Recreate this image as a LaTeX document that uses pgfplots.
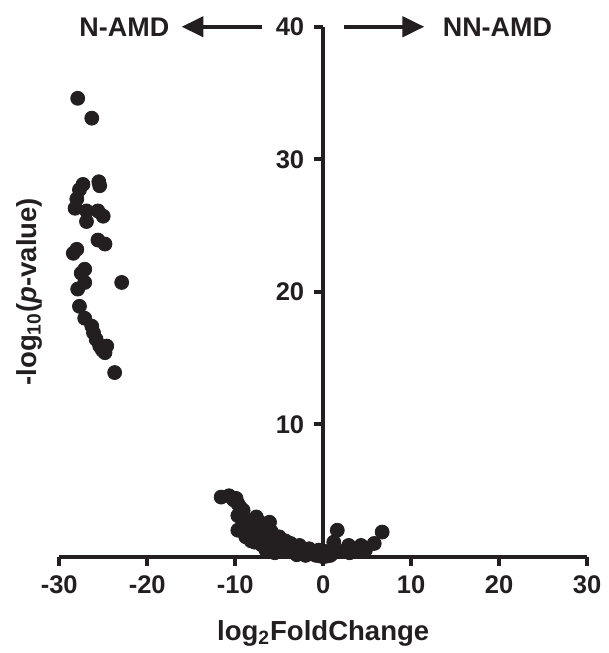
\documentclass[border=0pt]{standalone}
\usepackage{fontspec}
\setmainfont{Liberation Sans}
\usepackage{pgfplots}
\pgfplotsset{compat=1.18}
\usetikzlibrary{arrows.meta}
\definecolor{ink}{RGB}{35,31,32}

\begin{document}
\begin{tikzpicture}
\begin{axis}[
    scale only axis,
    width=264.6pt, height=265.6pt,
    xmin=-30, xmax=30, ymin=0, ymax=40,
    axis x line=bottom, axis y line=middle,
    axis line style={-, line width=1.8pt, ink},
    xtick={-30,-20,-10,0,10,20,30},
    ytick={10,20,30,40},
    tick align=outside,
    major tick length=4.5pt,
    every tick/.style={line width=1.8pt, ink},
    /pgf/number format/assume math mode=true,
    every tick label/.append style={font=\fontsize{12.8}{14}\selectfont\bfseries, text=ink},
    xticklabel style={anchor=base, yshift=-14pt},
    yticklabel style={xshift=-1.5pt},
    xlabel={}, ylabel={},
    clip=false,
]
\path (axis cs:-36.73,-7.15) rectangle (axis cs:32.09,42.02);

\node[anchor=base, font=\fontsize{13.8}{15}\selectfont\bfseries, text=ink]
    at ([yshift=-42pt]rel axis cs:0.5,0) {log\textsubscript{2}FoldChange};
\node[rotate=90, font=\fontsize{13.8}{15}\selectfont\bfseries, text=ink]
    at ([xshift=-15pt]rel axis cs:0,0.5) {-log\textsubscript{10}(\textit{p}-value)};

\node[font=\fontsize{13.5}{15}\selectfont\bfseries, text=ink] at (axis cs:-22.6,40) {N-AMD};
\node[font=\fontsize{13.5}{15}\selectfont\bfseries, text=ink] at (axis cs:19.8,40) {NN-AMD};
\draw[ink, line width=2.2pt, -{Triangle[length=11pt,width=10pt]}] (axis cs:-7.0,40) -- (axis cs:-16.1,40);
\draw[ink, line width=2.2pt, -{Triangle[length=11pt,width=10pt]}] (axis cs:2.4,40) -- (axis cs:11.5,40);

% N-AMD cluster
\addplot[only marks, mark=*, mark size=3.5pt, ink, mark options={fill=ink, draw=ink}] coordinates {
(-27.9,34.6) (-26.3,33.1) (-25.5,28.3) (-25.4,28.0) (-27.3,28.1) (-27.7,27.7)
(-28.0,27.0) (-28.2,26.3) (-26.9,26.1) (-25.6,26.1) (-25.0,25.7) (-26.9,25.3)
(-25.6,23.9) (-24.8,23.6) (-28.0,23.2) (-28.4,22.9) (-27.1,21.7) (-27.5,21.4)
(-27.1,20.7) (-22.9,20.7) (-27.9,20.2) (-27.7,18.9) (-27.1,18.0) (-26.3,17.4)
(-26.1,16.9) (-25.8,16.4) (-25.4,15.9) (-24.6,15.9) (-24.8,15.4) (-25.1,15.6)
(-23.7,13.9)
};

% low-fold-change cluster
\addplot[only marks, mark=*, mark size=3.5pt, ink, mark options={fill=ink, draw=ink}] coordinates {
(-11.6,4.5) (-10.7,4.6) (-10.2,4.3) (-9.9,4.4) (-9.7,4.0) (-9.4,3.7) (-9.1,3.5)
(-9.7,3.1) (-9.2,2.8) (-9.7,2.0) (-8.8,2.5) (-8.3,2.7) (-7.6,3.0) (-7.2,2.6)
(-6.1,2.6) (-6.6,2.2) (-5.9,1.9) (-8.0,1.8) (-7.8,1.1) (-7.4,1.5) (-6.7,0.85)
(-6.2,1.2) (-5.2,1.1) (-4.8,0.7) (-3.7,1.0) (-2.7,0.85) (-4.4,0.5) (-3.5,0.4)
(-2.5,0.3) (-1.6,0.6) (-1.2,0.2) (-0.8,0.1) (-0.3,0.05) (0.0,0.0) (0.4,0.05)
(0.8,0.1) (1.2,0.3) (1.6,2.0) (1.2,1.1) (2.9,0.85) (4.3,0.85) (5.8,1.0)
(6.7,1.86) (2.2,0.4) (3.0,0.3) (3.8,0.4) (4.8,0.5) (-5.5,0.3) (-6.5,0.5)
(-7.0,0.9) (-8.5,2.0) (-8.8,1.5) (-5.0,1.5) (-4.0,0.6) (-2.0,0.4) (-3.0,0.15)
(-2.0,0.1) (-1.0,0.3) (0.2,0.4) (-0.5,0.5) (-8.2,1.2) (-6.9,1.7) (-4.3,1.2)
};
\end{axis}
\end{tikzpicture}
\end{document}
